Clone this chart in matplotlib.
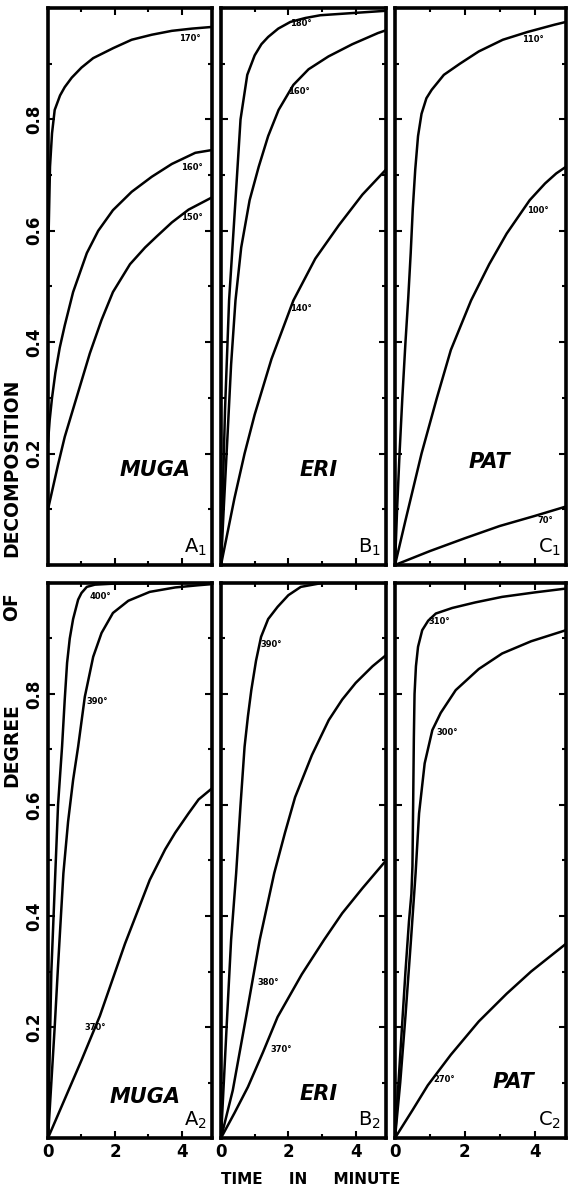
import numpy as np
import matplotlib
matplotlib.use('Agg')
import matplotlib.pyplot as plt
from matplotlib.ticker import MultipleLocator

# panel names and silk names
silks = ['MUGA', 'ERI', 'PAT']
tags_top = ['A$_1$', 'B$_1$', 'C$_1$']
tags_bot = ['A$_2$', 'B$_2$', 'C$_2$']

# ---- top row (lower temperatures) ----
muga1_labels = ['170°', '160°', '150°']
muga1_x = [[0, 0.02, 0.06, 0.12, 0.2, 0.36, 0.5, 0.71, 1.0, 1.35, 1.95, 2.5, 3.1, 3.7, 4.3, 4.9],
           [0, 0.05, 0.12, 0.22, 0.35, 0.5, 0.75, 1.16, 1.5, 1.94, 2.5, 3.1, 3.7, 4.4, 4.9],
           [0, 0.15, 0.3, 0.5, 0.7, 1.0, 1.25, 1.6, 1.94, 2.45, 2.9, 3.25, 3.7, 4.2, 4.9]]
muga1_y = [[0.45, 0.6, 0.715, 0.775, 0.817, 0.843, 0.858, 0.875, 0.893, 0.91, 0.928, 0.943, 0.952, 0.959, 0.963, 0.966],
           [0.22, 0.26, 0.3, 0.345, 0.39, 0.43, 0.49, 0.56, 0.6, 0.637, 0.67, 0.697, 0.72, 0.74, 0.745],
           [0.1, 0.14, 0.18, 0.23, 0.27, 0.33, 0.38, 0.44, 0.49, 0.54, 0.57, 0.59, 0.615, 0.638, 0.66]]

eri1_labels = ['180°', '160°', '140°']
eri1_x = [[0, 0.05, 0.12, 0.24, 0.43, 0.58, 0.78, 1.0, 1.2, 1.4, 1.7, 2.06, 2.5, 2.95, 4.9],
          [0, 0.08, 0.2, 0.3, 0.43, 0.6, 0.85, 1.12, 1.4, 1.71, 2.15, 2.6, 3.19, 3.9, 4.66, 4.9],
          [0, 0.2, 0.4, 0.7, 1.0, 1.5, 2.15, 2.8, 3.5, 4.2, 4.9]]
eri1_y = [[0, 0.12, 0.28, 0.475, 0.655, 0.8, 0.88, 0.915, 0.935, 0.948, 0.963, 0.975, 0.982, 0.987, 0.995],
          [0, 0.1, 0.24, 0.36, 0.475, 0.57, 0.655, 0.715, 0.77, 0.817, 0.862, 0.89, 0.913, 0.935, 0.955, 0.96],
          [0, 0.06, 0.12, 0.2, 0.27, 0.37, 0.475, 0.55, 0.61, 0.665, 0.71]]

pat1_labels = ['110°', '100°', '70°']
pat1_x = [[0, 0.06, 0.13, 0.21, 0.3, 0.38, 0.45, 0.51, 0.58, 0.66, 0.76, 0.9, 1.05, 1.4, 1.86, 2.4, 3.09, 3.8, 4.57, 4.9],
          [0, 0.3, 0.76, 1.2, 1.6, 2.18, 2.7, 3.2, 3.86, 4.3, 4.62, 4.9],
          [0, 1, 2, 3, 4, 4.9]]
pat1_y = [[0, 0.1, 0.2, 0.3, 0.4, 0.48, 0.56, 0.64, 0.71, 0.77, 0.81, 0.838, 0.853, 0.88, 0.9, 0.922, 0.943, 0.957, 0.97, 0.975],
          [0, 0.08, 0.2, 0.3, 0.386, 0.475, 0.54, 0.595, 0.655, 0.685, 0.703, 0.715],
          [0, 0.025, 0.048, 0.07, 0.088, 0.105]]

# ---- bottom row (higher temperatures) ----
muga2_labels = ['400°', '390°', '370°']
muga2_x = [[0, 0.05, 0.1, 0.21, 0.3, 0.42, 0.5, 0.57, 0.65, 0.75, 0.9, 1.0, 1.16, 1.4, 2, 4.9],
           [0, 0.1, 0.2, 0.3, 0.46, 0.6, 0.75, 0.9, 1.1, 1.35, 1.6, 1.94, 2.4, 3.04, 3.8, 4.5, 4.9],
           [0, 0.5, 1.0, 1.55, 2.3, 3.04, 3.5, 3.8, 4.2, 4.5, 4.9]]
muga2_y = [[0, 0.15, 0.3, 0.465, 0.6, 0.705, 0.79, 0.856, 0.9, 0.935, 0.97, 0.982, 0.993, 0.997, 0.999, 1.0],
           [0, 0.1, 0.2, 0.31, 0.477, 0.57, 0.645, 0.705, 0.795, 0.867, 0.91, 0.946, 0.968, 0.984, 0.992, 0.996, 0.998],
           [0, 0.07, 0.14, 0.22, 0.35, 0.465, 0.52, 0.55, 0.585, 0.61, 0.63]]

eri2_labels = ['390°', '380°', '370°']
eri2_x = [[0, 0.1, 0.2, 0.3, 0.45, 0.58, 0.7, 0.8, 0.9, 1.04, 1.19, 1.4, 1.68, 2.0, 2.37, 3, 4.9],
          [0, 0.35, 0.75, 1.15, 1.58, 1.9, 2.2, 2.7, 3.2, 3.6, 4.0, 4.5, 4.9],
          [0, 0.4, 0.8, 1.25, 1.68, 2.4, 3.06, 3.6, 4.2, 4.9]]
eri2_y = [[0, 0.12, 0.24, 0.357, 0.477, 0.6, 0.705, 0.76, 0.807, 0.86, 0.903, 0.935, 0.957, 0.978, 0.993, 1.0, 1.0],
          [0, 0.086, 0.22, 0.357, 0.477, 0.55, 0.614, 0.69, 0.753, 0.79, 0.82, 0.85, 0.87],
          [0, 0.045, 0.092, 0.155, 0.218, 0.295, 0.357, 0.405, 0.45, 0.5]]

pat2_labels = ['310°', '300°', '270°']
pat2_x = [[0, 0.1, 0.2, 0.3, 0.4, 0.47, 0.5, 0.52, 0.54, 0.56, 0.6, 0.66, 0.78, 0.95, 1.17, 1.64, 2.3, 3.07, 4.0, 4.9],
          [0, 0.15, 0.3, 0.45, 0.59, 0.69, 0.85, 1.07, 1.31, 1.74, 2.4, 3.07, 3.9, 4.75, 4.9],
          [0, 0.5, 0.94, 1.6, 2.4, 3.2, 3.9, 4.4, 4.9]]
pat2_y = [[0, 0.1, 0.2, 0.3, 0.39, 0.44, 0.49, 0.6, 0.72, 0.8, 0.85, 0.885, 0.915, 0.932, 0.945, 0.955, 0.965, 0.975, 0.983, 0.99],
          [0, 0.1, 0.22, 0.35, 0.477, 0.585, 0.675, 0.735, 0.766, 0.807, 0.845, 0.873, 0.895, 0.912, 0.915],
          [0, 0.05, 0.095, 0.15, 0.21, 0.26, 0.30, 0.325, 0.35]]

# where the temperature tags sit (data coords)
lab_pos = [[(4.24, 0.946), (4.3, 0.713), (4.3, 0.623)],
           [(2.36, 0.973), (2.3, 0.85), (2.36, 0.46)],
           [(3.94, 0.943), (4.1, 0.637), (4.3, 0.08)],
           [(1.55, 0.975), (1.46, 0.786), (1.4, 0.2)],
           [(1.5, 0.89), (1.4, 0.28), (1.8, 0.16)],
           [(1.26, 0.93), (1.5, 0.73), (1.4, 0.105)]]
silk_pos = [(3.2, 0.17), (2.9, 0.17), (2.7, 0.185),
            (2.9, 0.074), (2.9, 0.08), (3.4, 0.1)]

panels = [(muga1_x, muga1_y, muga1_labels), (eri1_x, eri1_y, eri1_labels),
          (pat1_x, pat1_y, pat1_labels), (muga2_x, muga2_y, muga2_labels),
          (eri2_x, eri2_y, eri2_labels), (pat2_x, pat2_y, pat2_labels)]

fig = plt.figure(figsize=(5.7, 11.91), dpi=100)

lefts = [48 / 570., 221 / 570., 395 / 570.]
widths = [164 / 570., 165 / 570., 171 / 570.]
bottoms = [1 - 565 / 1191., 1 - 1138 / 1191.]
heights = [557 / 1191., 555 / 1191.]

for i in range(6):
    r, c = i // 3, i % 3
    ax = fig.add_axes([lefts[c], bottoms[r], widths[c], heights[r]])
    xs, ys, labs = panels[i]
    for k in range(3):
        ax.plot(xs[k], ys[k], color='black', lw=1.8, solid_capstyle='round',
                solid_joinstyle='round')
        ax.text(lab_pos[i][k][0], lab_pos[i][k][1], labs[k], fontsize=6,
                fontweight='bold', ha='center', va='center')
    ax.text(silk_pos[i][0], silk_pos[i][1], silks[c], fontsize=15,
            fontweight='bold', style='italic', ha='center', va='center')
    tag = tags_top[c] if r == 0 else tags_bot[c]
    ax.text(0.97, 0.012, tag, transform=ax.transAxes, fontsize=14,
            ha='right', va='bottom')
    ax.set_xlim(0, 4.9)
    ax.set_ylim(0, 1.0)
    for s in ax.spines.values():
        s.set_linewidth(2.6)
    ax.xaxis.set_major_locator(MultipleLocator(2))
    ax.xaxis.set_minor_locator(MultipleLocator(1))
    ax.yaxis.set_major_locator(MultipleLocator(0.2))
    ax.yaxis.set_minor_locator(MultipleLocator(0.1))
    ax.tick_params(which='both', direction='in', top=True, right=True,
                   width=1.5)
    ax.tick_params(which='major', length=5)
    ax.tick_params(which='minor', length=3)
    ax.set_yticks([0.2, 0.4, 0.6, 0.8])
    if c == 0:
        ax.set_yticklabels(['0.2', '0.4', '0.6', '0.8'], rotation=90,
                           fontsize=12, fontweight='bold', va='center')
    else:
        ax.set_yticklabels([])
    if r == 1:
        ax.set_xticks([0, 2, 4])
        ax.set_xticklabels(['0', '2', '4'], fontsize=12, fontweight='bold')
    else:
        ax.set_xticklabels([])

# y label split in three words, spread like the original lettering
fig.text(0.021, 1 - 468 / 1191., 'DECOMPOSITION', rotation=90,
         fontsize=13.5, fontweight='bold', ha='center', va='center')
fig.text(0.021, 1 - 607 / 1191., 'OF', rotation=90,
         fontsize=13.5, fontweight='bold', ha='center', va='center')
fig.text(0.021, 1 - 745 / 1191., 'DEGREE', rotation=90,
         fontsize=13.5, fontweight='bold', ha='center', va='center')
fig.text(0.545, 1 - 1180 / 1191., 'TIME     IN     MINUTE', fontsize=11,
         fontweight='bold', ha='center', va='center')

plt.savefig('out.png', dpi=100)
